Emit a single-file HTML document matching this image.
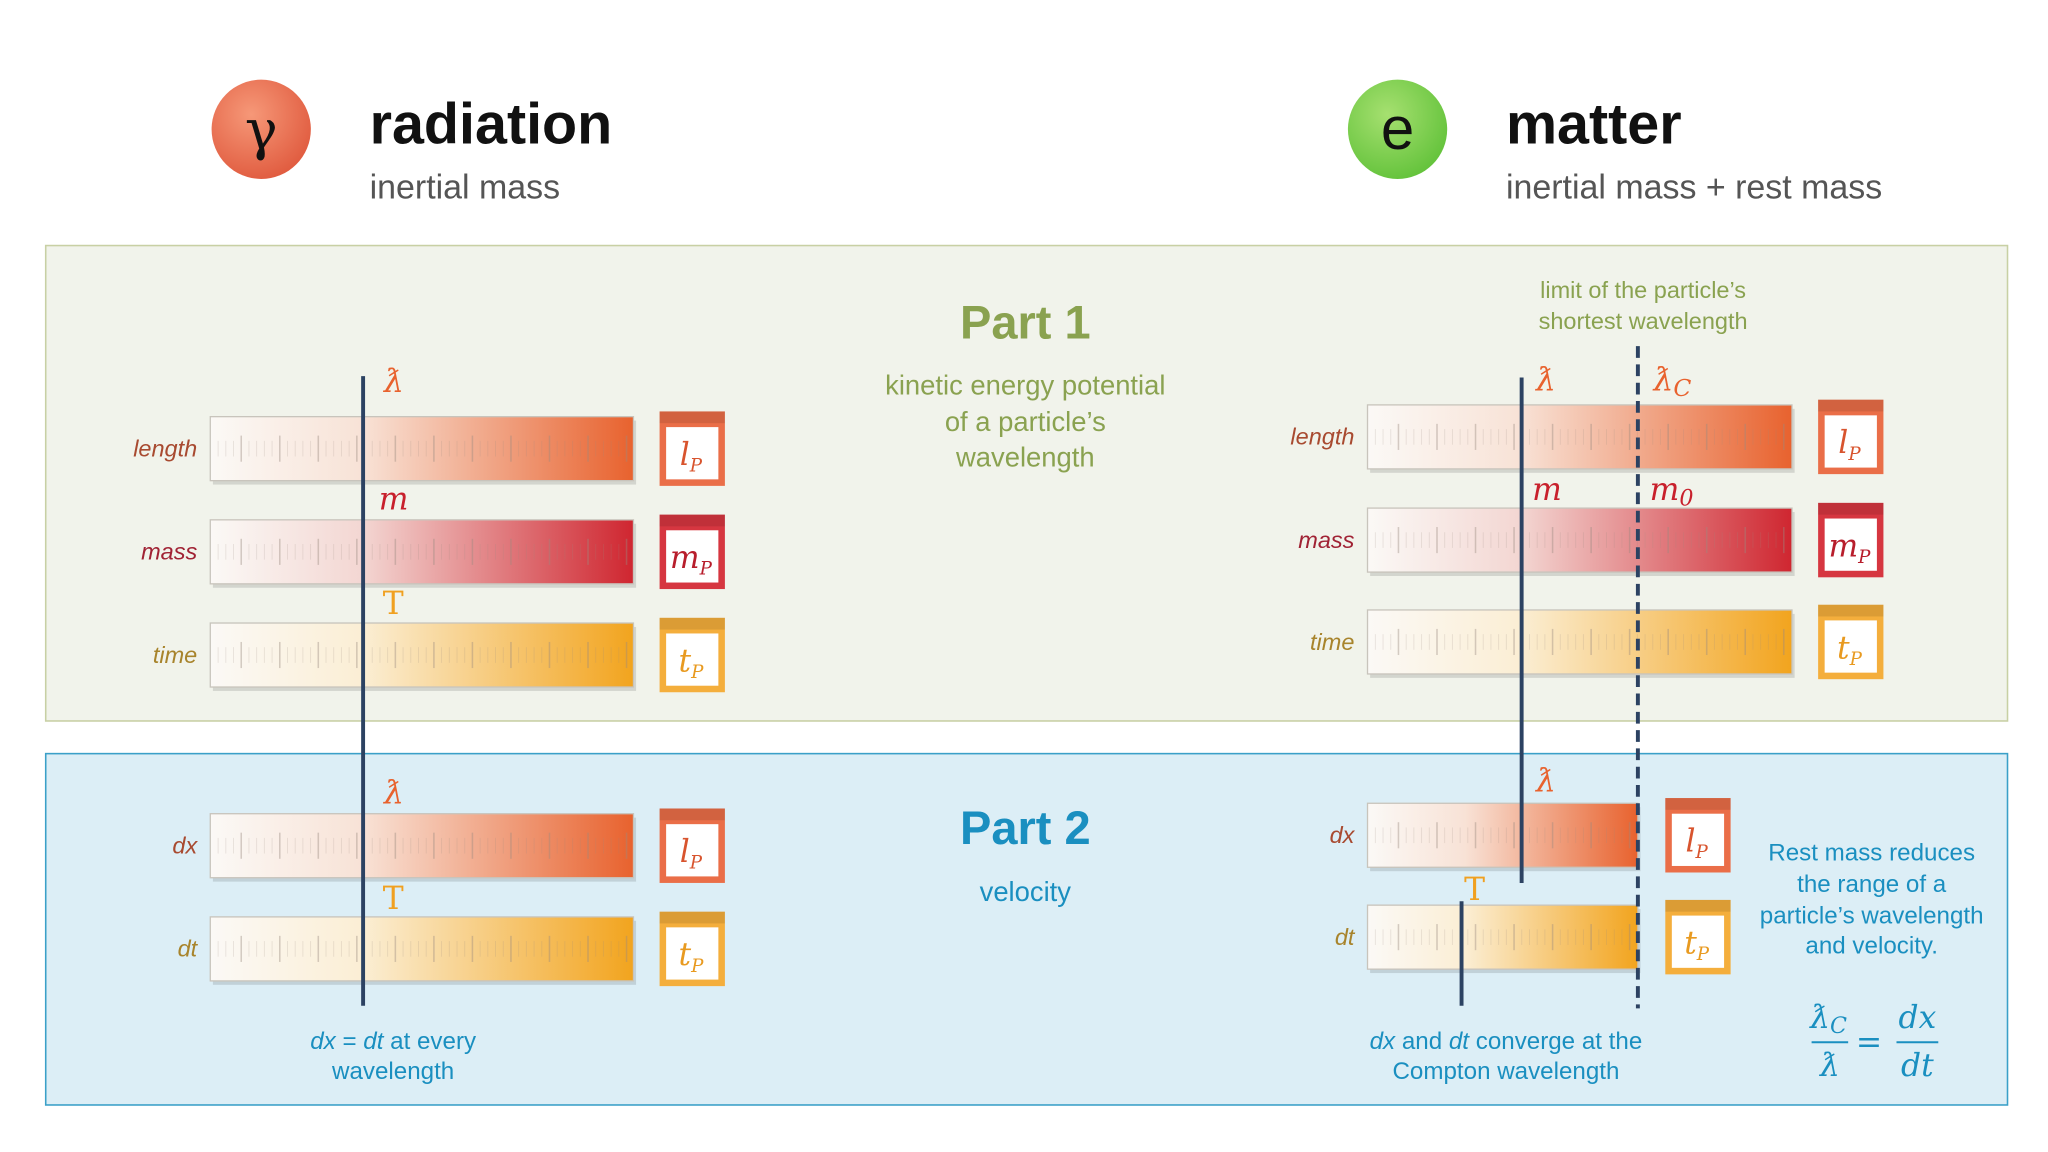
<!DOCTYPE html>
<html><head><meta charset="utf-8"><style>
html,body{margin:0;padding:0;background:#fff;}
svg{display:block;}
text{font-family:"Liberation Sans",sans-serif;}
.lbl{font-style:italic;font-size:18px;text-anchor:end;}
.sym text, text.sym, .sym tspan{font-family:"DejaVu Serif","Liberation Serif",serif;font-style:italic;}
.up, .sym text.up{font-style:normal;}
</style></head><body>
<svg width="2048" height="1152" viewBox="0 0 1568 882" xmlns="http://www.w3.org/2000/svg">
<defs>
<linearGradient id="gL" x1="0" x2="1"><stop offset="0" stop-color="#fbf9f6"/><stop offset="0.36" stop-color="#f8e2d6"/><stop offset="1" stop-color="#e8622e"/></linearGradient>
<linearGradient id="gM" x1="0" x2="1"><stop offset="0" stop-color="#fbf9f6"/><stop offset="0.36" stop-color="#f3d6d2"/><stop offset="1" stop-color="#cf2630"/></linearGradient>
<linearGradient id="gT" x1="0" x2="1"><stop offset="0" stop-color="#fbf9f6"/><stop offset="0.36" stop-color="#fbeed4"/><stop offset="1" stop-color="#f2a41e"/></linearGradient>
<radialGradient id="gG" cx="0.4" cy="0.35" r="0.7"><stop offset="0" stop-color="#f69878"/><stop offset="1" stop-color="#e05a3e"/></radialGradient>
<radialGradient id="gE" cx="0.4" cy="0.35" r="0.7"><stop offset="0" stop-color="#a6e070"/><stop offset="1" stop-color="#62c23a"/></radialGradient>
</defs>

<circle cx="200" cy="99" r="38" fill="url(#gG)"/>
<text x="200" y="114" text-anchor="middle" font-family="DejaVu Serif, serif" font-size="42" fill="#111" style="font-family:'DejaVu Serif',serif">γ</text>
<text x="283" y="110" font-size="44" font-weight="bold" fill="#111">radiation</text>
<text x="283" y="152" font-size="26" fill="#555">inertial mass</text>
<circle cx="1070" cy="99" r="38" fill="url(#gE)"/>
<text x="1070" y="114" text-anchor="middle" font-size="46" fill="#111">e</text>
<text x="1153" y="110" font-size="44" font-weight="bold" fill="#111">matter</text>
<text x="1153" y="152" font-size="26" fill="#555">inertial mass + rest mass</text>

<rect x="35" y="188" width="1502" height="364" fill="#f1f3eb" stroke="#c8d0a4" stroke-width="1.2"/>
<rect x="35" y="577" width="1502" height="269" fill="#dceef6" stroke="#3aa0c8" stroke-width="1.2"/>

<text x="785" y="259" text-anchor="middle" font-size="36" font-weight="bold" fill="#8aa250">Part 1</text>
<g font-size="21" fill="#8aa250" text-anchor="middle">
<text x="785" y="302">kinetic energy potential</text><text x="785" y="330">of a particle’s</text><text x="785" y="357">wavelength</text></g>
<text x="785" y="646" text-anchor="middle" font-size="36" font-weight="bold" fill="#1a8fc0">Part 2</text>
<text x="785" y="690" text-anchor="middle" font-size="21" fill="#1a8fc0">velocity</text>

<g font-size="18" fill="#8aa250" text-anchor="middle">
<text x="1258" y="228">limit of the particle’s</text><text x="1258" y="252">shortest wavelength</text></g>

<g id="bars"></g>

<line x1="278" y1="288" x2="278" y2="770" stroke="#2c4262" stroke-width="3"/>
<line x1="1165" y1="289" x2="1165" y2="676" stroke="#2c4262" stroke-width="3"/>
<line x1="1119" y1="690" x2="1119" y2="770" stroke="#2c4262" stroke-width="3"/>
<line x1="1254" y1="265" x2="1254" y2="772" stroke="#2c4262" stroke-width="3" stroke-dasharray="9,5"/>

<g class="sym" font-size="24">
<text x="294" y="300" fill="#e8622e">ƛ</text>
<text x="290" y="390" fill="#c8202c">m</text>
<text class="up" x="293" y="470" fill="#f0a020">T</text>
<text x="294" y="615" fill="#e8622e">ƛ</text>
<text class="up" x="293" y="696" fill="#f0a020">T</text>
<text x="1176" y="299" fill="#e8622e">ƛ</text>
<text x="1266" y="299" fill="#e8622e">ƛ<tspan font-size="18" dy="4">C</tspan></text>
<text x="1173" y="383" fill="#c8202c">m</text>
<text x="1263" y="383" fill="#c8202c">m<tspan class="up" font-size="17" dy="4">0</tspan></text>
<text x="1176" y="606" fill="#e8622e">ƛ</text>
<text class="up" x="1121" y="689" fill="#f0a020">T</text>
</g>

<g font-size="18.5" fill="#1a8fc0" text-anchor="middle">
<text x="1433" y="659">Rest mass reduces</text><text x="1433" y="683">the range of a</text><text x="1433" y="707">particle’s wavelength</text><text x="1433" y="730">and velocity.</text></g>
<g class="sym" font-size="24" fill="#1a8fc0" text-anchor="middle">
<text x="1400" y="787">ƛ<tspan font-size="17" dy="4">C</tspan></text>
<line x1="1387" y1="798" x2="1415" y2="798" stroke="#1a8fc0" stroke-width="1.5"/>
<text x="1401" y="824">ƛ</text>
<text class="up" x="1431" y="806">=</text>
<text x="1468" y="787">dx</text>
<line x1="1452" y1="798" x2="1484" y2="798" stroke="#1a8fc0" stroke-width="1.5"/>
<text x="1468" y="824">dt</text>
</g>

<g font-size="18.5" fill="#1a8fc0" text-anchor="middle">
<text x="301" y="803"><tspan font-style="italic">dx</tspan> = <tspan font-style="italic">dt</tspan> at every</text><text x="301" y="826">wavelength</text></g>
<g font-size="18.5" fill="#1a8fc0" text-anchor="middle">
<text x="1153" y="803"><tspan font-style="italic">dx</tspan> and <tspan font-style="italic">dt</tspan> converge at the</text><text x="1153" y="826">Compton wavelength</text></g>
</svg>
<script>
const barNames=['length','mass','time','dx','dt','length','mass','time','dx','dt'];
const barX=[161,161,161,161,161,1047,1047,1047,1047,1047];
const barY=[319,398,477,623,702,310,389,467,615,693];
const barW=[324,324,324,324,324,325,325,325,207,207];
const barKind=['L','M','T','L','T','L','M','T','L','T'];
const boxX=[505,505,505,505,505,1392,1392,1392,1275,1275];
const labelColor={L:'#a84a30',M:'#a02234',T:'#a8842c'};
const boxColor={L:'#ea6e48',M:'#d63640',T:'#f4ae3c'};
const boxText={L:['l','#d8542e'],M:['m','#b81e2c'],T:['t','#e89a20']};
const NS='http://www.w3.org/2000/svg';
const g=document.getElementById('bars');
function mk(tag,attrs,parent){const e=document.createElementNS(NS,tag);for(const k in attrs)e.setAttribute(k,attrs[k]);(parent||g).appendChild(e);return e;}
for(let i=0;i<barNames.length;i++){
  const k=barKind[i],x=barX[i],y=barY[i],w=barW[i],h=49;
  const grp=mk('g',{});
  
  
  mk('rect',{x:x+2,y:y+3,width:w,height:h,fill:'#000',opacity:0.12},grp);
  mk('rect',{x:x,y:y,width:w,height:h,fill:'url(#g'+k+')',stroke:'#c8c4bc','stroke-width':1},grp);
  for(let t=0;t<(w-10)/5.9;t++){
    const tx=x+6+t*5.9,big=(t%5===3);
    mk('line',{x1:tx,x2:tx,y1:y+h/2-(big?10:6),y2:y+h/2+(big?10:6),stroke:'#9a8a80','stroke-width':big?1.2:0.7,opacity:big?0.4:0.2},grp);
  }
  const lb=mk('text',{x:x-10,y:y+h/2+6,class:'lbl',fill:labelColor[k]});
  lb.textContent=barNames[i];
  
  
  const bx=boxX[i],by=y-4,bh=57;
  const bg=mk('g',{});
  
  
  mk('rect',{x:bx,y:by,width:50,height:bh,fill:boxColor[k]},bg);
  mk('rect',{x:bx,y:by,width:50,height:9,fill:'#000',opacity:0.1},bg);
  mk('rect',{x:bx+5,y:by+12,width:40,height:bh-17,fill:'#fff'},bg);
  const tt=mk('text',{x:bx+24,y:by+bh-16,'text-anchor':'middle',class:'sym','font-size':24,fill:boxText[k][1]},bg);
  tt.textContent=boxText[k][0];
  const sub=mk('tspan',{'font-size':14,dy:5},tt);sub.textContent='P';
}
</script>
</body></html>
